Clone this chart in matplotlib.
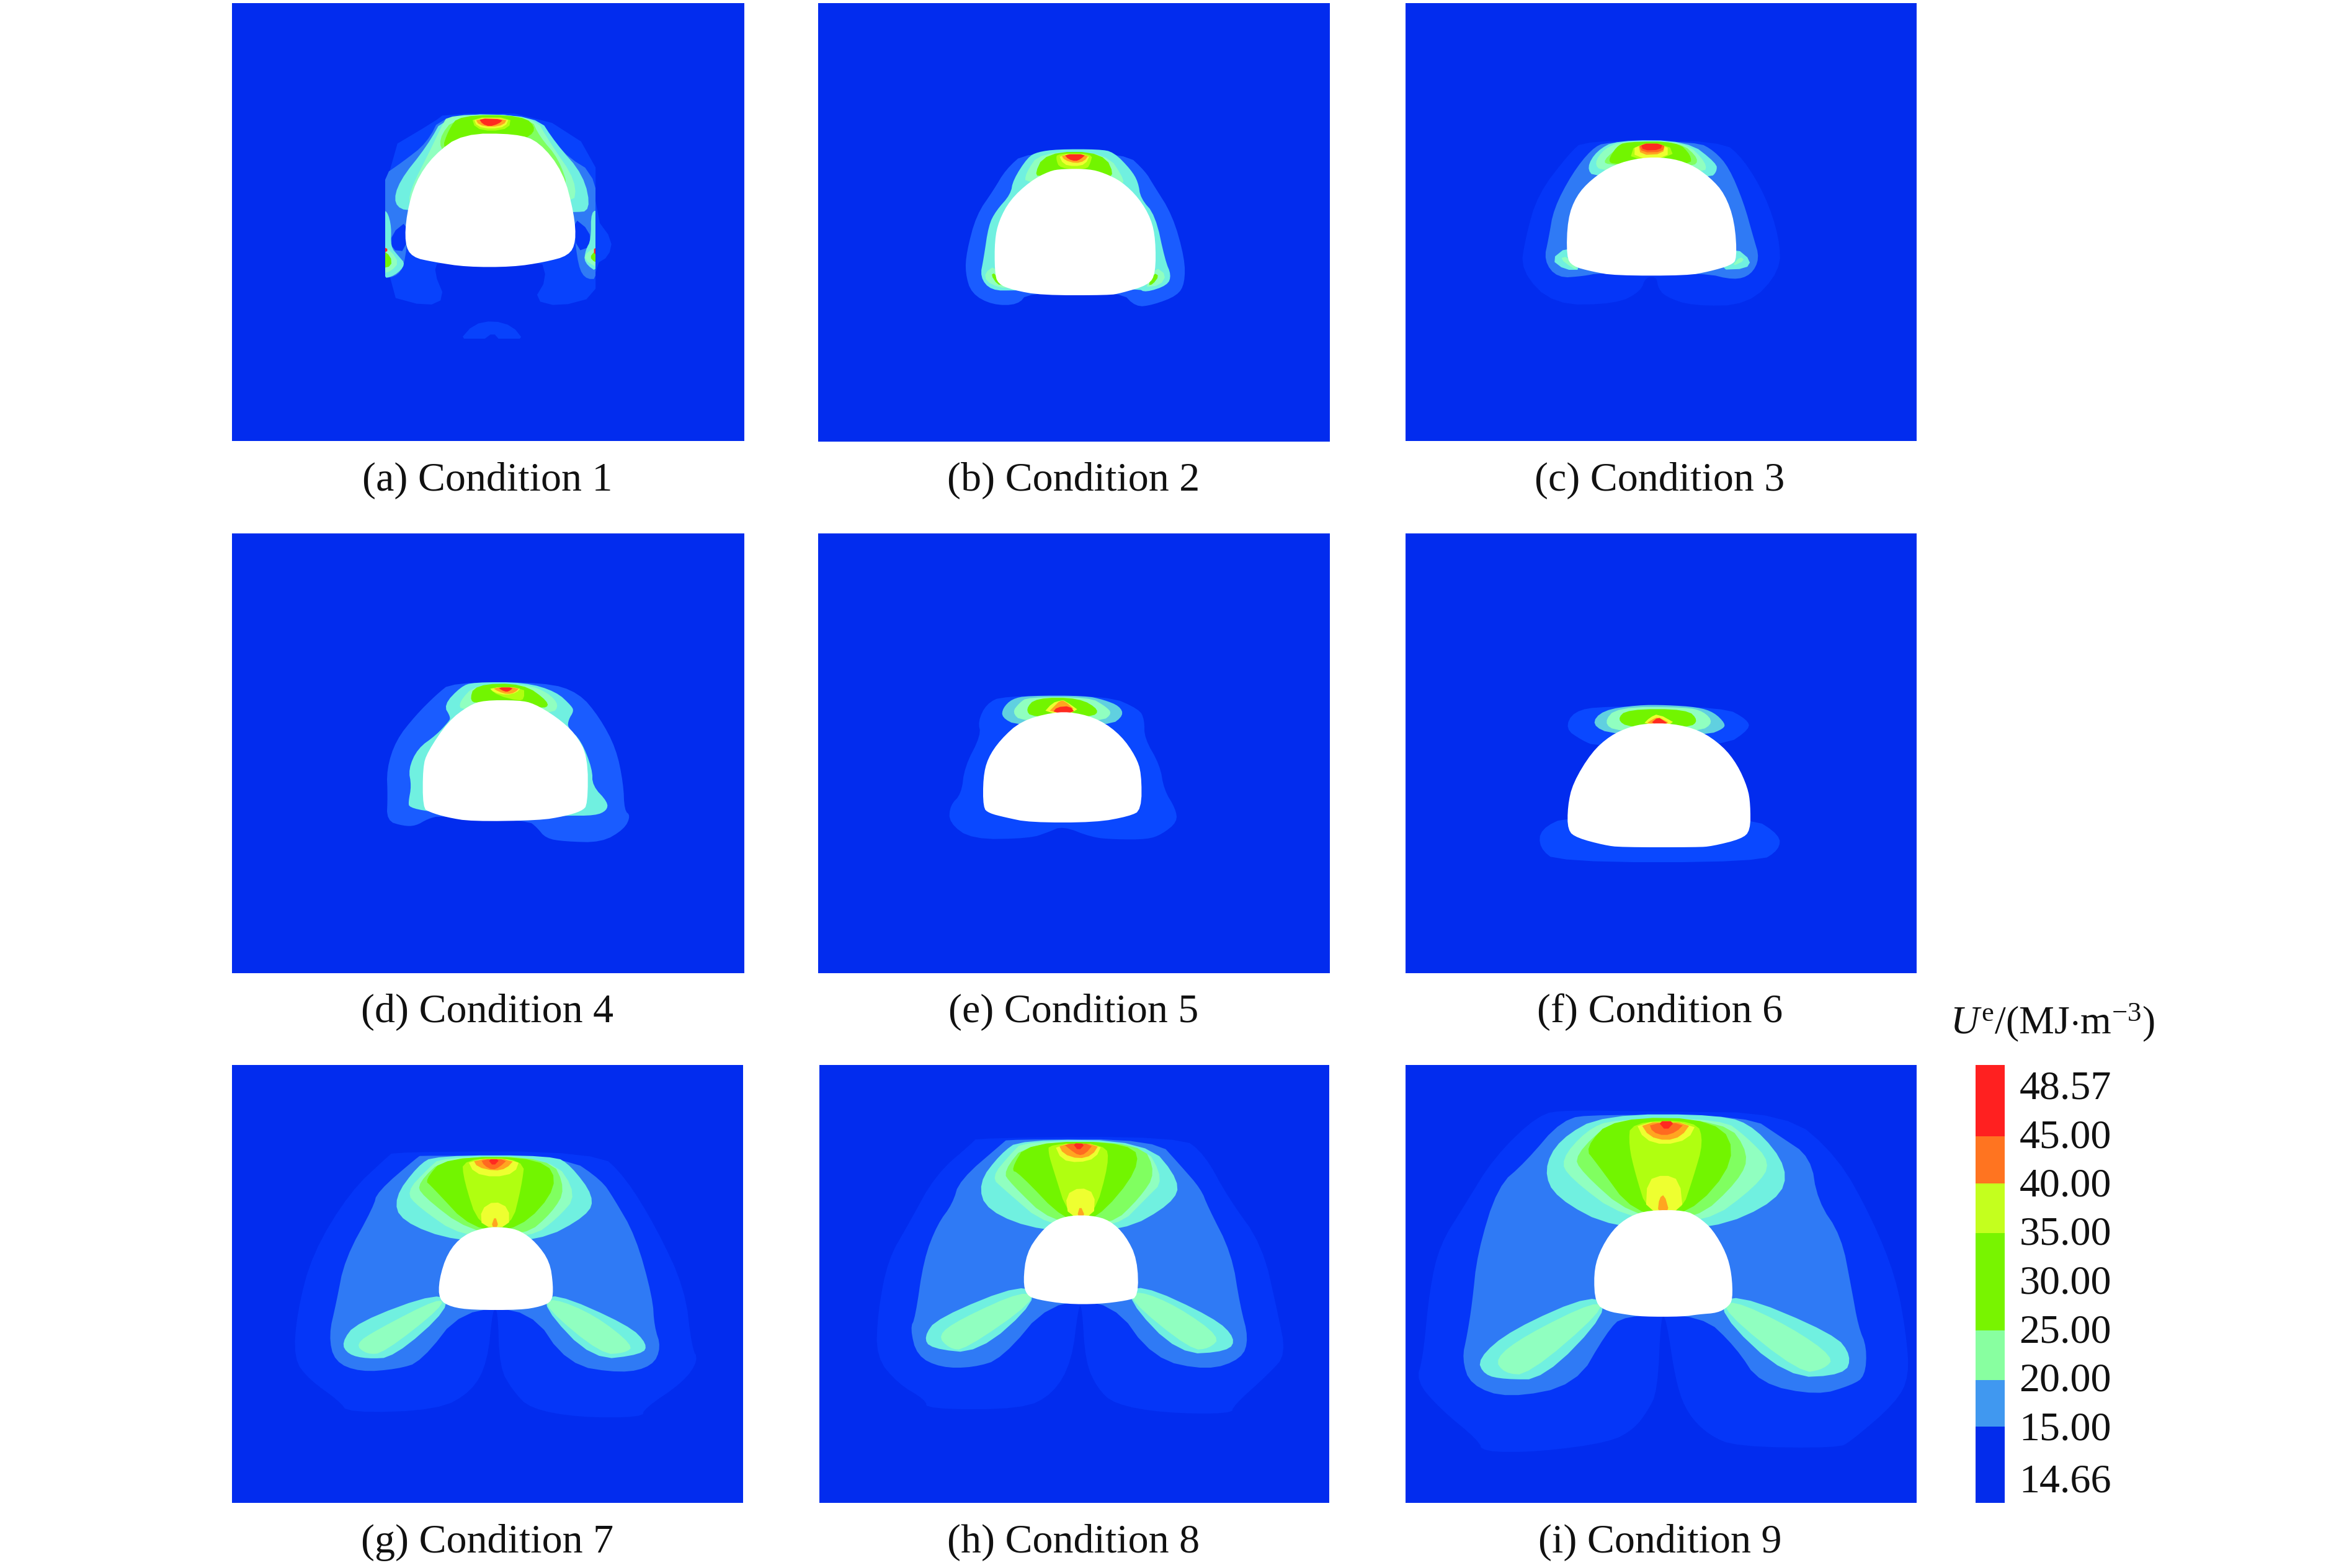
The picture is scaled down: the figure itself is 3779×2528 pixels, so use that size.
import matplotlib
matplotlib.use("Agg")
import matplotlib.pyplot as plt
from matplotlib.patches import Rectangle

plt.rcParams["font.family"] = ["Liberation Serif", "DejaVu Serif"]
plt.rcParams["mathtext.fontset"] = "custom"
plt.rcParams["mathtext.rm"] = "Liberation Serif"
plt.rcParams["mathtext.it"] = "Liberation Serif:italic"

W, H = 3780, 2528
BG = "#022cee"
COL = {"b00": "#0842fc", "b0": "#0536f8", "b1": "#1a5cff", "be": "#0a48ff", "b2": "#2f7af5",
       "c": "#70f0e0", "cd": "#60d0e0", "m": "#90ffc0", "g0": "#80ff60", "g": "#72f500",
       "yg": "#b0ff10", "y": "#eeff30", "o": "#ffa520", "r0": "#ff6a20", "r": "#ff2a20"}

captions = ["(a) Condition 1", "(b) Condition 2", "(c) Condition 3",
            "(d) Condition 4", "(e) Condition 5", "(f) Condition 6",
            "(g) Condition 7", "(h) Condition 8", "(i) Condition 9"]

# Contour-band outlines (painted low to high, the opening last)
cond1 = [
 ("b00", [(640,350),(900,350),(1063,465),(1063,670),(1110,740),(1100,790),(1063,815),(1063,915),(960,945),(890,925),(925,860),(910,800),(620,805),(610,840),(640,920),(590,945),(472,910),(472,465),(610,375)]),
 ("b00", [(680,1050),(720,1000),(775,988),(830,1005),(862,1050),(795,1050),(775,1025),(745,1050)]),
 ("b2", [(630,352),(900,355),(965,470),(1075,545),(1075,860),(1030,860),(1010,800),(1000,650),(540,650),(530,800),(510,850),(460,860),(460,545),(520,500),(590,440)]),
 ("b0", [(535,680),(490,720),(490,770),(530,775)]),
 ("b0", [(1000,670),(1045,710),(1050,760),(1010,775)]),
 ("c", [(640,352),(900,355),(950,440),(1030,540),(1050,650),(1000,655),(540,655),(495,630),(510,560),(590,450)]),
 ("c", [(478,650),(490,700),(487,760),(510,790),(530,815),(500,850),(460,860),(460,650)]),
 ("c", [(1050,650),(1075,650),(1075,845),(1030,810),(1035,770),(1050,740)]),
 ("m", [(650,352),(890,355),(935,440),(1010,560),(1000,640),(540,640),(540,590),(600,460),(630,390)]),
 ("m", [(460,755),(490,775),(510,810),(490,835),(460,845)]),
 ("m", [(1075,760),(1040,775),(1030,800),(1075,830)]),
 ("g0", [(670,358),(880,360),(905,420),(960,490),(990,590),(900,480),(640,480),(620,430)]),
 ("g", [(680,355),(860,355),(900,400),(855,435),(700,435),(630,465),(650,400)]),
 ("g", [(460,768),(488,790),(490,820),(460,828)]),
 ("g", [(1075,765),(1050,785),(1050,800),(1075,815)]),
 ("yg", [(715,362),(825,362),(820,395),(770,405),(725,395)]),
 ("y", [(720,364),(820,364),(810,390),(770,398),(730,390)]),
 ("o", [(725,366),(815,366),(805,385),(770,392),(735,385)]),
 ("r", [(735,365),(805,368),(790,382),(765,390),(745,382)]),
 ("r", [(460,758),(484,770),(460,785)]),
 ("r", [(1075,755),(1053,772),(1075,800)]),
 ("w", [(690,412),(840,412),(905,437),(972,530),(1003,660),(1008,745),(988,788),(920,808),(830,823),(700,823),(610,808),(547,793),(527,750),(532,660),(557,560),(608,478)]),
]
cond2 = [
 ("b1", [(640,285),(1050,290),(1130,380),(1160,440),(1240,590),(1290,800),(1290,920),(1260,980),(1160,1025),(1090,1035),(1030,960),(650,965),(610,1025),(505,1025),(420,970),(395,870),(400,770),(440,590),(510,470),(560,370)]),
 ("c", [(690,285),(770,272),(940,272),(1000,285),(1070,370),(1100,430),(1110,510),(1170,590),(1210,810),(1235,880),(1220,930),(1130,965),(1100,945),(600,955),(500,955),(455,890),(470,800),(490,640),(520,570),(580,490),(590,420),(650,310)]),
 ("m", [(700,285),(970,285),(1050,430),(1020,440),(640,440),(640,390)]),
 ("m", [(515,835),(475,870),(480,910),(530,940),(590,945)]),
 ("m", [(1170,840),(1215,880),(1190,930),(1120,940)]),
 ("g", [(720,285),(960,285),(1010,420),(900,375),(750,375),(670,415)]),
 ("g", [(515,870),(500,880),(525,925),(550,930)]),
 ("g", [(1165,870),(1185,885),(1160,925),(1140,930)]),
 ("yg", [(770,292),(915,292),(905,340),(890,370),(780,365),(765,320)]),
 ("y", [(775,296),(905,296),(885,345),(840,355),(795,345)]),
 ("o", [(785,298),(900,298),(880,330),(845,340),(800,325)]),
 ("r", [(798,296),(888,296),(865,320),(845,330),(815,320)]),
 ("w", [(790,367),(900,367),(962,387),(1033,428),(1103,508),(1153,608),(1171,710),(1171,872),(1143,928),(1030,968),(980,978),(705,978),(590,953),(527,923),(515,862),(515,710),(532,618),(577,518),(658,428),(738,377)]),
]
cond3 = [
 ("b0", [(390,228),(950,228),(1040,320),(1130,500),(1185,700),(1190,860),(1060,1025),(830,1030),(720,985),(690,940),(685,890),(640,890),(620,960),(520,1020),(265,1025),(130,860),(150,700),(200,490),(330,290)]),
 ("b2", [(480,235),(850,235),(920,280),(980,360),(1040,530),(1080,700),(1105,800),(1070,880),(1000,905),(880,870),(450,870),(390,885),(280,895),(225,810),(245,700),(265,560),(340,390),(420,270)]),
 ("c", [(520,228),(810,230),(930,340),(930,380),(905,410),(430,410),(400,360),(440,280)]),
 ("c", [(318,745),(255,805),(310,855),(380,855),(330,790)]),
 ("c", [(1010,750),(1070,810),(1050,850),(940,855),(1005,800)]),
 ("m", [(545,232),(800,232),(890,340),(880,390),(460,380),(430,340),(470,270)]),
 ("m", [(320,790),(290,800),(345,850),(365,850)]),
 ("m", [(1025,790),(1045,810),(990,840)]),
 ("g0", [(560,235),(780,235),(860,320),(830,360),(500,350),(460,330)]),
 ("g", [(560,235),(770,235),(825,300),(825,350),(515,345),(485,330),(520,260)]),
 ("yg", [(595,248),(735,248),(755,310),(575,325)]),
 ("y", [(595,248),(730,248),(730,315),(595,315)]),
 ("o", [(610,245),(720,245),(710,295),(620,300)]),
 ("r0", [(612,245),(718,245),(710,285),(625,288)]),
 ("r", [(620,245),(710,245),(700,275),(630,278)]),
 ("w", [(620,312),(730,312),(822,342),(903,408),(963,488),(1003,620),(1013,802),(988,833),(900,863),(810,883),(515,883),(420,863),(342,838),(317,792),(322,608),(357,498),(418,418),(508,347)]),
]
cond4 = [
 ("b1", [(535,150),(990,150),(1150,200),(1250,320),(1330,470),(1365,640),(1370,770),(1400,795),(1370,860),(1260,925),(1080,920),(990,905),(945,850),(905,820),(480,795),(420,810),(360,845),(300,845),(220,820),(225,700),(220,570),(265,430),(360,310),(460,210)]),
 ("c", [(640,150),(890,150),(1040,195),(1115,265),(1125,290),(1100,330),(1095,370),(1160,430),(1215,570),(1215,650),(1290,730),(1285,770),(1230,795),(1080,795),(1030,800),(600,790),(420,775),(330,755),(325,730),(340,650),(325,570),(370,470),(460,405),(520,340),(530,320),(495,260),(580,170)]),
 ("m", [(650,160),(900,160),(1000,200),(1055,260),(1020,305),(580,290),(570,245)]),
 ("g", [(645,160),(880,155),(1005,245),(990,280),(880,250),(680,250),(620,245)]),
 ("yg", [(710,175),(885,175),(885,230),(860,240),(760,215)]),
 ("y", [(715,175),(870,175),(850,200),(800,212),(740,200)]),
 ("o", [(730,175),(865,175),(840,200),(805,208),(760,195)]),
 ("r", [(755,175),(835,175),(810,195),(790,195)]),
 ("w", [(690,237),(860,237),(932,252),(1042,318),(1133,398),(1193,508),(1193,742),(1163,773),(1080,798),(960,818),(630,823),(510,803),(428,778),(395,757),(395,560),(417,488),(518,338),(618,262)]),
]
cond5 = [
 ("be", [(410,215),(920,215),(1070,280),(1095,330),(1095,420),(1170,550),(1190,670),(1245,760),(1255,825),(1180,885),(1110,910),(950,910),(840,900),(700,845),(630,875),(540,905),(260,910),(150,830),(155,745),(210,690),(225,560),(305,405),(290,340),(330,255)]),
 ("cd", [(530,215),(810,215),(900,235),(975,265),(995,310),(930,360),(480,360),(405,320),(410,275),(455,230)]),
 ("m", [(530,222),(830,222),(905,265),(940,300),(890,340),(500,340),(455,295),(490,250)]),
 ("g", [(570,225),(780,225),(880,285),(840,320),(550,320),(520,280)]),
 ("y", [(690,238),(710,238),(790,295),(605,300),(650,250)]),
 ("o", [(685,240),(710,240),(765,290),(630,295),(660,265)]),
 ("r", [(672,270),(735,265),(760,298),(650,298)]),
 ("w", [(650,295),(760,295),(882,332),(983,408),(1053,508),(1081,590),(1081,768),(1022,798),(860,828),(540,828),(420,803),(343,783),(315,757),(315,610),(337,518),(398,428),(498,337)]),
]
cond6 = [
 ("be", [(430,175),(1020,180),(1130,240),(1145,285),(1020,370),(400,370),(330,340),(250,285),(290,200)]),
 ("be", [(265,705),(130,770),(125,860),(210,930),(1190,930),(1285,870),(1290,800),(1150,710)]),
 ("cd", [(600,170),(740,170),(890,180),(970,205),(1025,260),(1015,285),(940,315),(480,315),(375,265),(430,195)]),
 ("m", [(500,180),(830,180),(920,200),(968,255),(900,300),(500,300),(435,255)]),
 ("g", [(550,190),(840,190),(895,245),(850,280),(560,280),(500,240)]),
 ("y", [(700,212),(795,265),(625,265),(660,230)]),
 ("o", [(700,228),(765,262),(640,262),(670,240)]),
 ("r", [(700,228),(725,245),(750,262),(660,262)]),
 ("w", [(640,259),(770,259),(902,292),(1012,368),(1083,458),(1133,570),(1146,650),(1146,778),(1102,818),(960,853),(890,858),(520,858),(440,848),(308,813),(262,777),(262,660),(287,548),(378,398),(468,318),(558,277)]),
]
cond7 = [
 ("b0", [(520,332),(1120,332),(1200,420),(1290,590),(1375,800),(1395,1000),(1415,1045),(1370,1120),(1255,1210),(1250,1240),(1060,1240),(920,1210),(870,1150),(830,1070),(825,870),(810,870),(795,1050),(750,1150),(650,1215),(385,1225),(360,1185),(270,1110),(225,1040),(235,880),(280,680),(390,470),(500,350)]),
 ("b2", [(600,345),(1030,350),(1130,430),(1165,490),(1230,620),(1280,830),(1285,930),(1305,1000),(1280,1065),(1190,1090),(1030,1060),(920,870),(720,870),(600,1050),(530,1075),(420,1085),(345,1050),(328,960),(350,850),(375,700),(460,520),(470,470),(590,350)]),
 ("c", [(640,345),(990,345),(1040,380),(1108,485),(1090,550),(945,640),(700,640),(540,570),(520,490),(590,380)]),
 ("c", [(655,810),(410,915),(365,985),(385,1025),(440,1040),(520,1035),(685,865)]),
 ("c", [(985,810),(1210,925),(1265,990),(1250,1025),(1105,1045),(955,860)]),
 ("m", [(660,350),(985,350),(1060,480),(1000,560),(925,625),(720,625),(590,520),(555,470),(620,390)]),
 ("m", [(655,830),(470,940),(405,990),(440,1025),(490,1020),(665,860)]),
 ("m", [(985,830),(1110,890),(1225,995),(1200,1020),(1130,1025),(960,860)]),
 ("g0", [(670,350),(980,350),(1025,460),(985,540),(905,620),(740,605),(600,480),(590,440)]),
 ("g", [(670,350),(960,352),(1005,450),(890,600),(750,600),(630,450),(610,430)]),
 ("yg", [(720,355),(905,355),(895,450),(865,590),(770,590),(725,430)]),
 ("y", [(735,358),(890,358),(875,405),(815,420),(755,405)]),
 ("y", [(815,500),(858,525),(858,590),(778,590),(775,530)]),
 ("o", [(752,358),(875,358),(850,390),(815,398),(765,385)]),
 ("o", [(817,550),(828,590),(805,590)]),
 ("r0", [(775,358),(855,358),(830,385),(810,395),(785,380)]),
 ("r", [(795,358),(832,358),(812,382)]),
 ("w", [(790,590),(845,590),(892,602),(938,643),(978,708),(988,790),(985,843),(952,861),(893,873),(750,873),(688,863),(652,838),(652,770),(677,678),(723,617)]),
]
cond8 = [
 ("b0", [(500,285),(1100,280),(1170,340),(1240,490),(1340,650),(1385,880),(1410,1025),(1360,1090),(1255,1200),(1250,1228),(1050,1225),(905,1195),(855,1140),(820,1050),(810,860),(800,860),(780,1050),(725,1160),(635,1212),(355,1212),(350,1180),(270,1125),(205,1035),(210,880),(240,700),(300,580),(380,410),(490,300)]),
 ("b2", [(590,290),(1030,290),(1100,380),(1160,460),(1180,520),(1250,680),(1275,860),(1300,970),(1280,1040),(1180,1080),(1020,1040),(900,845),(715,845),(575,1040),(490,1070),(395,1070),(325,1030),(305,935),(320,900),(345,700),(385,580),(430,510),(450,430),(580,300)]),
 ("c", [(630,290),(1000,295),(1100,435),(1075,510),(930,605),(690,605),(530,535),(505,440),(570,340)]),
 ("c", [(640,780),(385,900),(345,965),(365,1005),(505,1022),(680,840)]),
 ("c", [(975,780),(1200,900),(1262,970),(1240,1015),(1095,1025),(940,835)]),
 ("m", [(640,295),(990,300),(1052,430),(1000,490),(915,590),(710,590),(580,460),(543,420),(600,340)]),
 ("m", [(640,805),(450,905),(385,960),(420,1005),(465,1010),(675,840)]),
 ("m", [(975,805),(1090,860),(1218,965),(1185,1005),(1130,1010),(945,835)]),
 ("g0", [(650,298),(985,300),(1028,405),(980,490),(895,585),(720,575),(600,440),(578,400)]),
 ("g", [(650,298),(960,300),(980,390),(850,570),(760,570),(625,405),(600,395)]),
 ("yg", [(712,305),(880,305),(890,370),(845,555),(770,555),(725,390),(712,340)]),
 ("y", [(728,305),(870,305),(850,355),(800,370),(750,360)]),
 ("y", [(805,453),(848,475),(845,555),(770,555),(762,480)]),
 ("o", [(740,305),(862,305),(840,345),(800,357),(755,340)]),
 ("o", [(805,515),(820,555),(795,555)]),
 ("r0", [(755,305),(845,305),(820,340),(800,345),(775,325)]),
 ("r", [(782,303),(820,305),(800,330)]),
 ("w", [(775,550),(840,550),(892,567),(938,618),(973,700),(976,828),(942,841),(860,853),(765,853),(680,838),(647,823),(637,775),(647,678),(688,607),(728,567)]),
]
cond9 = [
 ("b0", [(500,190),(760,195),(1150,200),(1300,350),(1400,560),(1470,760),(1500,950),(1510,1100),(1470,1190),(1340,1320),(1300,1345),(1000,1340),(920,1300),(860,1230),(825,1130),(795,900),(780,890),(770,1150),(740,1220),(700,1280),(630,1325),(420,1358),(255,1358),(245,1320),(130,1210),(60,1115),(80,1040),(100,800),(130,650),(200,520),(290,350),(420,205)]),
 ("b2", [(590,205),(1040,210),(1130,280),(1220,350),(1240,500),(1310,620),(1340,800),(1360,930),(1385,1000),(1380,1100),(1340,1130),(1240,1165),(1070,1125),(1000,1000),(900,890),(670,890),(620,950),(530,1130),(330,1175),(220,1130),(195,1040),(210,960),(225,850),(240,680),(300,450),(380,370),(490,220)]),
 ("c", [(610,205),(960,205),(1060,250),(1155,390),(1125,500),(930,600),(640,595),(470,490),(435,395),(480,290)]),
 ("c", [(585,815),(340,940),(240,1040),(260,1095),(320,1110),(435,1110),(625,880)]),
 ("c", [(990,810),(1290,955),(1340,1030),(1320,1095),(1150,1105),(945,880)]),
 ("m", [(640,220),(960,220),(1030,280),(1105,370),(1060,450),(910,580),(670,560),(510,420),(485,360),(560,260)]),
 ("m", [(590,840),(380,960),(290,1040),(320,1090),(390,1095),(610,875)]),
 ("m", [(985,835),(1160,930),(1290,1035),(1260,1075),(1190,1090),(960,875)]),
 ("g0", [(640,220),(970,225),(1040,340),(1010,430),(880,570),(690,550),(545,400),(525,345)]),
 ("g", [(640,215),(950,220),(1005,360),(860,555),(700,545),(590,370),(555,320)]),
 ("yg", [(690,230),(885,225),(905,300),(875,420),(840,540),(740,540),(705,410),(685,310)]),
 ("y", [(705,230),(885,235),(860,290),(790,310),(730,290)]),
 ("y", [(790,410),(835,430),(845,540),(735,540),(740,430)]),
 ("o", [(718,232),(870,232),(840,280),(795,295),(745,280)]),
 ("o", [(790,478),(805,540),(770,540),(775,490)]),
 ("r0", [(745,235),(850,235),(825,265),(790,278),(755,265)]),
 ("r", [(770,228),(822,228),(795,262)]),
 ("w", [(745,532),(850,532),(892,557),(932,598),(972,678),(988,750),(991,837),(977,862),(947,883),(890,888),(845,896),(725,896),(675,888),(623,878),(587,852),(582,750),(597,678),(638,598),(688,552)]),
]
conditions = [cond1, cond2, cond3, cond4, cond5, cond6, cond7, cond8, cond9]

# panel box in figure px, and the reading frame (origin, px-to-reading scale) of each outline set
boxes = [(374,5,1200,711),(1319,5,2144,712),(2266,5,3090,711),
         (374,860,1200,1569),(1319,860,2144,1569),(2266,860,3090,1569),
         (374,1717,1198,2423),(1321,1717,2143,2423),(2266,1717,3090,2423)]
frames = [(350,0,1.742,1.912),(1400,150,2.529,3),(2400,150,2.529,3),
          (550,1050,3,3),(1480,1050,3,3),(2440,1080,3,3),
          (350,1700,1.823,2.119),(1300,1700,1.823,2.119),(2250,1700,1.823,2.119)]
caption_x = [786,1731,2676,786,1731,2676,786,1731,2676]
caption_y = [775,775,775,1632,1632,1632,2487,2487,2487]

# colour scale
scale_values = ["48.57","45.00","40.00","35.00","30.00","25.00","20.00","15.00","14.66"]
scale_colors = ["#ff2020","#ff7420","#c4ff1e","#78f400","#88ffa0","#4098f0","#032ceb"]
scale_edges = [1717,1832,1908,1988,2145,2225,2300,2423]
scale_label_pos = [1749,1828,1906,1984,2063,2142,2220,2299,2383]

fig = plt.figure(figsize=(W/100, H/100), dpi=100, facecolor="white")

def add_px_axes(x0, y0, x1, y1):
    return fig.add_axes([x0/W, 1-y1/H, (x1-x0)/W, (y1-y0)/H])

def rounded(pts, passes):
    # corner rounding, to render the outlines as the soft contour bands they are
    for _ in range(passes):
        out = []
        n = len(pts)
        for i in range(n):
            (x0, y0), (x1, y1) = pts[i], pts[(i+1) % n]
            out.append((0.75*x0+0.25*x1, 0.75*y0+0.25*y1))
            out.append((0.25*x0+0.75*x1, 0.25*y0+0.75*y1))
        pts = out
    return pts

for idx, (layers, box, fr, cap, cx, cy) in enumerate(zip(conditions, boxes, frames, captions, caption_x, caption_y)):
    x0, y0, x1, y1 = box
    ox, oy, sx, sy = fr
    ax = add_px_axes(x0, y0, x1, y1)
    ax.set_facecolor(BG)
    ax.set_xlim((x0-ox)*sx, (x1-ox)*sx)
    ax.set_ylim((y1-oy)*sy, (y0-oy)*sy)
    ax.set_xticks([]); ax.set_yticks([])
    for s in ax.spines.values():
        s.set_visible(False)
    for key, pts in layers:
        passes = 2 if len(pts) >= 6 else 1
        if idx == 0 and key != "w":
            passes = 1 if key == "b00" else passes
        xs, ys = zip(*rounded(pts, passes))
        c = "white" if key == "w" else COL[key]
        poly = ax.fill(xs, ys, color=c, lw=0)[0]
        if idx == 0 and key != "w":
            # condition 1 has a hard-edged band region
            right = 1115 if key == "b00" else 1063
            clip = Rectangle((472, 0), right-472, 1043, transform=ax.transData)
            poly.set_clip_path(clip)
    fig.text(cx/W, 1-cy/H, cap, ha="center", va="center", fontsize=47.5, color="#111111")

cb = add_px_axes(3185, 1717, 3232, 2423)
for c, top, bot in zip(scale_colors, scale_edges[:-1], scale_edges[1:]):
    cb.bar(0.5, bot-top, bottom=top, width=1.0, color=c, lw=0)
cb.set_xlim(0, 1)
cb.set_ylim(2423, 1717)
cb.set_xticks([])
cb.yaxis.tick_right()
cb.set_yticks(scale_label_pos)
cb.set_yticklabels(scale_values, fontsize=47.5, color="#111111", ha="left")
cb.tick_params(axis="y", length=0, pad=17)
for s in cb.spines.values():
    s.set_visible(False)

fig.text(3309/W, 1-1649/H, r"$\mathit{U}^{\mathrm{e}}/(\mathrm{MJ{\cdot}m}^{-3})$",
         ha="center", va="center", fontsize=46, color="#111111")

fig.savefig("out.png", dpi=100)
